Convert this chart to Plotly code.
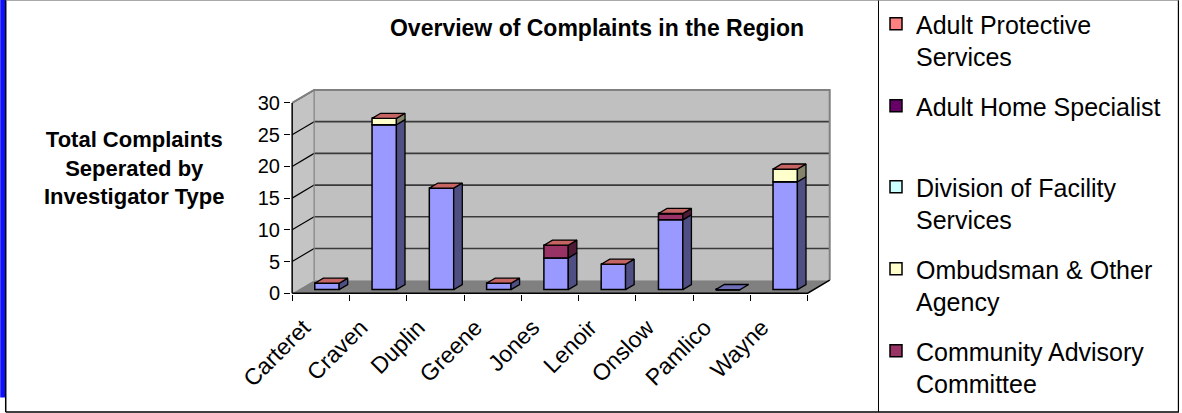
import plotly.graph_objects as go

# ---------------- data ----------------
counties = ["Carteret", "Craven", "Duplin", "Greene", "Jones", "Lenoir", "Onslow", "Pamlico", "Wayne"]
# stack order bottom -> top (Excel default palette order)
first_series = [1, 26, 16, 1, 5, 4, 11, 0, 17]          # blue series (its legend entry is cut off in the original)
community_advisory = [0, 0, 0, 0, 2, 0, 1, 0, 0]
ombudsman_other = [0, 1, 0, 0, 0, 0, 0, 0, 2]
facility_services = [0, 0, 0, 0, 0, 0, 0, 0, 0]
adult_home_specialist = [0, 0, 0, 0, 0, 0, 0, 0, 0]
adult_protective = [0, 0, 0, 0, 0, 0, 0, 0, 0]

series_values = [first_series, community_advisory, ombudsman_other,
                 facility_services, adult_home_specialist, adult_protective]
series_names = [None,
                "Community Advisory<br>Committee",
                "Ombudsman & Other<br>Agency",
                "Division of Facility<br>Services",
                "Adult Home Specialist",
                "Adult Protective<br>Services"]
series_colors = ["#9999FF", "#993366", "#FFFFCC", "#CCFFFF", "#660066", "#FF8080"]
y_ticks = [0, 5, 10, 15, 20, 25, 30]

title_text = "Overview of Complaints in the Region"
ytitle_text = "Total Complaints<br>Seperated by<br>Investigator Type"

# ---------------- geometry (styling) ----------------
W, H = 1182, 413
PX_CAT = 57.3      # pixels per category
PX_UNIT = 6.33     # pixels per value unit
X_LEFT_PX = 292    # pixel of x=-0.5
Y_ZERO_PX = 293    # pixel of y=0
DX = 22 / PX_CAT   # floor depth (x)
DY = 13 / PX_UNIT  # floor depth (y)
FRONT, BACK = 0.28, 0.67
BAR_W = 24.4 / PX_CAT
FONT = "Liberation Sans, Arial, sans-serif"
# legend entry tops (pixels), one legend box per entry
LEGEND_TOPS = {5: 1, 4: 83, 3: 164, 2: 246, 1: 328}

n = len(counties)
xmin, xmax = -0.52, n - 0.5 + DX + 0.04
ymin, ymax = -0.12, max(y_ticks) + DY + 0.15
l = X_LEFT_PX - (-0.5 - xmin) * PX_CAT
pw = (xmax - xmin) * PX_CAT
r = W - l - pw
b = H - (Y_ZERO_PX + (-ymin) * PX_UNIT)
ph = (ymax - ymin) * PX_UNIT
t = H - b - ph


def shade(hexcol, f):
    hexcol = hexcol.lstrip("#")
    rgb = [int(hexcol[i:i + 2], 16) for i in (0, 2, 4)]
    return "rgb(%d,%d,%d)" % tuple(int(c * f) for c in rgb)


def px2paper_x(px):
    return (px - l) / pw


def px2paper_y(py):
    return (H - b - py) / ph


fig = go.Figure()

# ---------------- walls / floor ----------------
shapes = []
ytop = max(y_ticks)
x_l, x_r = -0.5, n - 0.5
shapes.append(dict(type="rect", xref="x", yref="y", x0=x_l + DX, x1=x_r + DX, y0=DY, y1=ytop + DY,
                   fillcolor="#C0C0C0", line=dict(width=0), layer="below"))
shapes.append(dict(type="path", xref="x", yref="y",
                   path=f"M{x_l},0 L{x_l},{ytop} L{x_l+DX},{ytop+DY} L{x_l+DX},{DY} Z",
                   fillcolor="#C4C4C4", line=dict(width=0), layer="below"))
shapes.append(dict(type="path", xref="x", yref="y",
                   path=f"M{x_l},0 L{x_r},0 L{x_r+DX},{DY} L{x_l+DX},{DY} Z",
                   fillcolor="#808080", line=dict(width=0), layer="below"))
for v in y_ticks[1:]:
    shapes.append(dict(type="line", xref="x", yref="y", x0=x_l + DX, x1=x_r + DX, y0=v + DY, y1=v + DY,
                       line=dict(color="#3A3A3A", width=1.6), layer="below"))
    shapes.append(dict(type="line", xref="x", yref="y", x0=x_l, x1=x_l + DX, y0=v, y1=v + DY,
                       line=dict(color="#000000", width=1.2), layer="below"))
shapes.append(dict(type="path", xref="x", yref="y",
                   path=f"M{x_l},{ytop} L{x_l+DX},{ytop+DY} L{x_r+DX},{ytop+DY} L{x_r+DX},{DY}",
                   line=dict(color="#808080", width=2), layer="below"))
shapes.append(dict(type="line", xref="x", yref="y", x0=x_l + DX, x1=x_l + DX, y0=DY, y1=ytop + DY,
                   line=dict(color="#808080", width=1.2), layer="below"))
shapes.append(dict(type="line", xref="x", yref="y", x0=x_l, x1=x_l, y0=0, y1=ytop,
                   line=dict(color="#000000", width=1.5), layer="below"))
shapes.append(dict(type="path", xref="x", yref="y",
                   path=f"M{x_l},0 L{x_r},0 L{x_r+DX},{DY}",
                   line=dict(color="#000000", width=1.5), layer="below"))

# ---------------- outer frame ----------------
frame = dict(color="#000000", width=1.5)
shapes.append(dict(type="rect", xref="paper", yref="paper",
                   x0=px2paper_x(0), x1=px2paper_x(5), y0=px2paper_y(0), y1=px2paper_y(397),
                   fillcolor="#1010FF", line=dict(width=0)))
shapes.append(dict(type="line", xref="paper", yref="paper", x0=px2paper_x(5.5), x1=px2paper_x(5.5),
                   y0=px2paper_y(0), y1=px2paper_y(411.5), line=frame))
shapes.append(dict(type="line", xref="paper", yref="paper", x0=px2paper_x(5.5), x1=px2paper_x(1179),
                   y0=px2paper_y(411.5), y1=px2paper_y(411.5), line=frame))
shapes.append(dict(type="line", xref="paper", yref="paper", x0=px2paper_x(1178.5), x1=px2paper_x(1178.5),
                   y0=px2paper_y(0), y1=px2paper_y(411.5), line=dict(color="#000000", width=1.2)))
shapes.append(dict(type="line", xref="paper", yref="paper", x0=px2paper_x(878.5), x1=px2paper_x(878.5),
                   y0=px2paper_y(0), y1=px2paper_y(411.5), line=dict(color="#000000", width=1)))
shapes.append(dict(type="line", xref="paper", yref="paper", x0=px2paper_x(5.5), x1=px2paper_x(1179),
                   y0=px2paper_y(0.5), y1=px2paper_y(0.5), line=dict(color="#808080", width=1)))

# ---------------- bars ----------------
xs = [i + FRONT * DX for i in range(n)]
y_front0 = FRONT * DY
ddx, ddy = (BACK - FRONT) * DX, (BACK - FRONT) * DY
cum = [0] * n
totals = [sum(s[i] for s in series_values) for i in range(n)]
side_traces = []
legend_layouts = {}
for k, (vals, name, col) in enumerate(zip(series_values, series_names, series_colors)):
    bases = [y_front0 + cum[i] for i in range(n)]
    lg_id = None
    if name is not None:
        idx = 6 - k  # APS -> legend, AHS -> legend2, ...
        lg_id = "legend" if idx == 1 else f"legend{idx}"
        legend_layouts[lg_id] = dict(
            xref="container", yref="container", x=876 / W, y=1 - LEGEND_TOPS[k] / H,
            xanchor="left", yanchor="top", valign="top",
            bgcolor="rgba(0,0,0,0)", borderwidth=0,
            font=dict(family=FONT, size=25, color="#000000"))
    bar = go.Bar(x=xs, y=vals, base=bases, width=BAR_W, name=name if name else "",
                 marker=dict(color=col, line=dict(color="#000000", width=1.5)),
                 showlegend=name is not None, hoverinfo="skip",
                 **({"legend": lg_id} if lg_id else {}))
    fig.add_trace(bar)
    px_, py_ = [], []
    for i in range(n):
        if vals[i] > 0:
            xr_ = xs[i] + BAR_W / 2
            y0_, y1_ = bases[i], bases[i] + vals[i]
            px_ += [xr_, xr_ + ddx, xr_ + ddx, xr_, xr_, None]
            py_ += [y0_, y0_ + ddy, y1_ + ddy, y1_, y0_, None]
    if px_:
        side_traces.append(go.Scatter(x=px_, y=py_, mode="lines", fill="toself",
                                      fillcolor=shade(col, 0.52), line=dict(color="#000000", width=1.3),
                                      showlegend=False, hoverinfo="skip"))
    cum = [cum[i] + vals[i] for i in range(n)]

for tr in side_traces:
    fig.add_trace(tr)

top_groups = {}
for i in range(n):
    col = series_colors[-1] if totals[i] > 0 else series_colors[0]
    f = 0.78 if totals[i] > 0 else 0.72
    xl_, xr_ = xs[i] - BAR_W / 2, xs[i] + BAR_W / 2
    yt = y_front0 + totals[i]
    g = top_groups.setdefault((col, f), ([], []))
    g[0].extend([xl_, xr_, xr_ + ddx, xl_ + ddx, xl_, None])
    g[1].extend([yt, yt, yt + ddy, yt + ddy, yt, None])
for (col, f), (px_, py_) in top_groups.items():
    fig.add_trace(go.Scatter(x=px_, y=py_, mode="lines", fill="toself", fillcolor=shade(col, f),
                             line=dict(color="#000000", width=1.3), showlegend=False, hoverinfo="skip"))

# ---------------- layout ----------------
fig.update_layout(
    width=W, height=H, autosize=False,
    margin=dict(l=l, r=r, t=t, b=b, pad=0),
    paper_bgcolor="#FFFFFF", plot_bgcolor="rgba(0,0,0,0)",
    barmode="overlay",
    font=dict(family=FONT, color="#000000", size=20),
    title=dict(text=title_text, xref="container", yref="container", x=597 / W, y=1 - 28 / H,
               xanchor="center", yanchor="middle",
               font=dict(family=FONT, size=23, color="#000000", weight="bold")),
    shapes=shapes,
    annotations=[dict(text=ytitle_text, xref="paper", yref="paper",
                      x=px2paper_x(134), y=px2paper_y(168), xanchor="center", yanchor="middle",
                      showarrow=False, align="center",
                      font=dict(family=FONT, size=22, color="#000000", weight="bold"))],
    xaxis=dict(range=[xmin, xmax], showgrid=False, zeroline=False, showline=False,
               tickmode="array", tickvals=[i - 0.3 for i in range(n)], ticktext=counties,
               ticks="outside", ticklen=10, tickcolor="rgba(0,0,0,0)",
               tickangle=-45, tickfont=dict(size=23),
               minor=dict(tickmode="array", tickvals=[i - 0.5 for i in range(n + 1)],
                          ticks="outside", ticklen=6, tickcolor="#000000", tickwidth=1.2, showgrid=False),
               fixedrange=True),
    yaxis=dict(range=[ymin, ymax], showgrid=False, zeroline=False, showline=False,
               tickmode="array", tickvals=y_ticks, ticks="outside", ticklen=6,
               tickcolor="#000000", tickwidth=1.2, tickfont=dict(size=20), fixedrange=True),
)
fig.update_layout(**legend_layouts)

fig.write_html("out.html", config={"displayModeBar": False},
               post_script="document.body.style.margin='0';document.body.style.overflow='hidden';")
